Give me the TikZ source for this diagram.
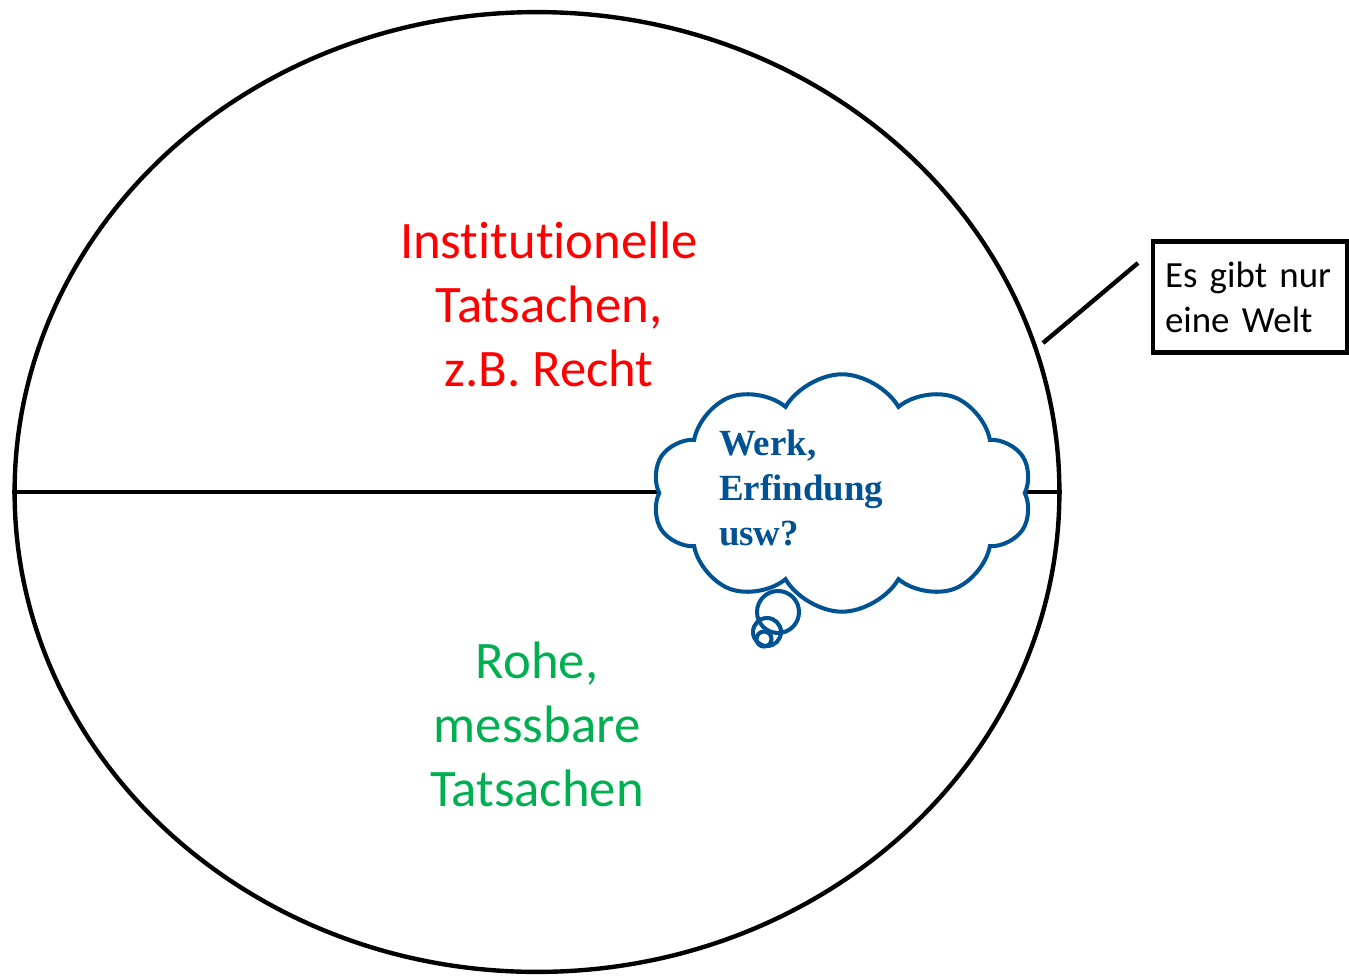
\documentclass[tikz,border=0pt]{standalone}
\usepackage{fontspec}
\setmainfont[Ligatures=NoCommon]{Carlito}
\newfontfamily\wolkefont{Liberation Serif}
\usepackage{xcolor}
\usepackage{tikz}
\usetikzlibrary{shapes.geometric,shapes.symbols}
\definecolor{rot}{RGB}{255,0,0}
\definecolor{gruen}{RGB}{0,176,80}
\definecolor{blau}{RGB}{0,82,147}

\begin{document}
\begin{tikzpicture}[x=0.02cm,y=-0.02cm,line width=2.5pt,
  gross/.style={font=\fontsize{30}{36.4}\selectfont,align=center},
  klein/.style={font=\fontsize{21}{25.6}\selectfont,align=left},
  blase/.style={circle,draw=blau,line width=2.3pt,inner sep=0pt}]
\useasboundingbox (0,0) rectangle (1349,977);
\node[ellipse,draw,inner sep=0pt,minimum width=20.9cm,minimum height=19.2cm] (Welt) at (537,492) {};
  \draw (Welt.west) -- (Welt.east);

  \node[gross,text=rot]   (I) at (549,304) {Institutionelle\\Tatsachen,\\z.B. Recht};
  \node[gross,text=gruen] (R) at (537,724) {Rohe,\\messbare\\Tatsachen};

  \node[cloud,cloud puffs=10,cloud puff arc=120,aspect=1.6,draw=blau,fill=white,line width=2.3pt,
        minimum width=7.6cm,minimum height=4.75cm,inner sep=0pt] (Wolke) at (842,493) {};
  \node[klein,anchor=west,text=blau,font=\wolkefont\bfseries\fontsize{21}{25.6}\selectfont] (W) at (711,488) {Werk,\\Erfindung\\usw?};
  \node[blase,minimum size=0.84cm] (B1) at (778,612) {};
  \node[blase,minimum size=0.56cm] (B2) at (767,632) {};
  \node[blase,minimum size=0.3cm]  (B3) at (764,639) {};

  \node[klein,draw,line width=2.8pt,minimum width=3.88cm,minimum height=2.22cm,text width=3.4cm] (Kasten) at (1250,297) {Es gibt nur\\eine Welt};
  \coordinate (P) at (1043,343);
  \coordinate (Q) at (1138,263);
  \draw (P) -- (Q);
\end{tikzpicture}
\end{document}
